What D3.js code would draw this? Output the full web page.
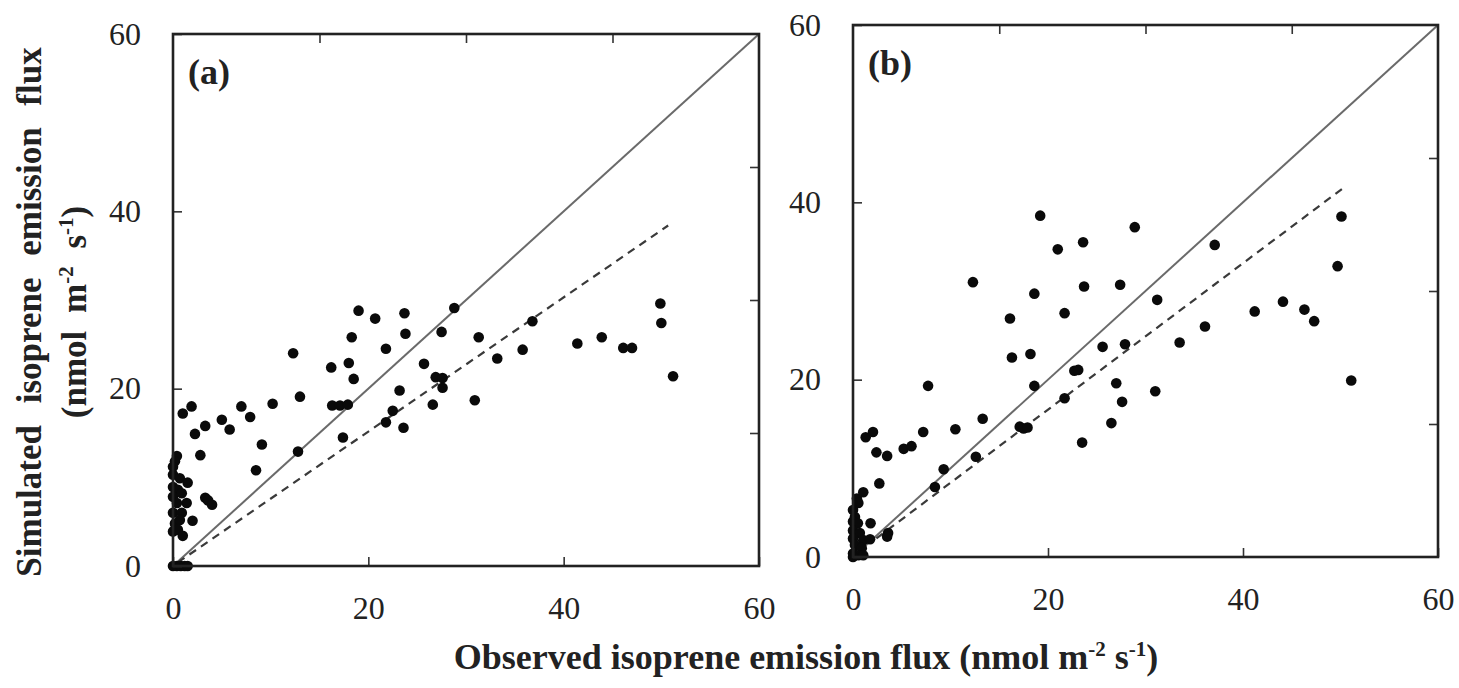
<!DOCTYPE html>
<html>
<head>
<meta charset="utf-8">
<script src="https://cdn.jsdelivr.net/npm/d3@7"></script>
<style>
  body { margin: 0; background: #fff; }
  text { font-family: "Liberation Serif", "Times New Roman", serif; fill: #222; }
</style>
</head>
<body>
<div class="graph-section"></div>
<script>
// panel (a): observed vs simulated, [obs, sim]
var pointsA = [
  [0,0],[0.4,0],[0.8,0],[1.2,0],[1.5,0],
  [0.4,12.4],[0.2,11.8],[0,11.2],[0,10.3],[0.7,9.9],[1.5,9.4],[0,8.9],[0.5,8.6],
  [0,7.8],[0.9,8.2],[1.4,7.1],[0.4,7.1],[0,6.0],[0.9,6.0],[0.2,4.8],[0.7,5.2],
  [0,3.9],[0.5,4.1],[1.0,3.4],[2.0,5.1],
  [2.8,12.5],[2.25,14.9],[3.3,15.8],[1.0,17.2],[1.9,18.0],
  [3.3,7.7],[3.6,7.4],[4.0,6.9],
  [5.0,16.5],[5.8,15.4],[7.0,18.0],[7.9,16.8],[8.5,10.8],[9.1,13.7],[10.2,18.3],
  [12.3,24.0],[12.8,12.9],[13.0,19.1],
  [16.2,22.4],[16.3,18.1],[17.1,18.1],[17.9,18.2],[17.4,14.5],[18.0,22.9],[18.5,21.1],
  [18.3,25.8],[19.0,28.8],[20.7,27.9],[21.8,24.5],[21.8,16.2],[22.5,17.5],[23.2,19.8],
  [23.6,15.6],[23.7,28.5],[23.8,26.2],[25.7,22.8],[26.6,18.2],[26.9,21.3],[27.6,21.2],
  [27.6,20.1],[27.5,26.4],[28.8,29.1],[30.9,18.7],[31.3,25.8],[33.2,23.4],[35.8,24.4],
  [36.8,27.6],[41.4,25.1],[43.9,25.8],[46.1,24.6],[47.0,24.6],[49.9,29.6],[50.0,27.4],
  [51.2,21.4]
];

// panel (b)
var pointsB = [
  [0.4,6.6],[0.55,6.1],[1.05,7.3],[0,5.3],[0.2,4.5],[0,4.0],[0.5,3.8],[1.8,3.8],
  [0,3.0],[0.7,2.7],[0,2.1],[1.05,1.9],[1.75,2.0],[0.2,1.35],[0.9,1.0],[0,0.4],
  [0.55,0.2],[1.05,0.2],[0,0],[3.6,2.7],[3.5,2.3],
  [2.7,8.3],[1.3,13.5],[2.05,14.1],[2.4,11.8],[3.5,11.4],[5.2,12.2],[6.0,12.5],
  [7.2,14.1],[7.7,19.3],[8.4,7.9],[9.3,9.9],[10.5,14.4],[12.3,31.0],[12.6,11.3],
  [13.3,15.6],[16.1,26.9],[16.3,22.5],[17.1,14.7],[17.5,14.5],[17.9,14.6],[18.2,22.9],
  [18.6,29.7],[18.6,19.3],[19.2,38.5],[21.0,34.7],[21.7,27.5],[21.7,17.9],[22.7,21.0],
  [23.1,21.1],[23.6,35.5],[23.5,12.9],[23.7,30.5],[25.6,23.7],[26.5,15.1],[27.0,19.6],
  [27.4,30.7],[27.6,17.5],[27.9,24.0],[28.9,37.2],[31.0,18.7],[31.2,29.0],[33.5,24.2],
  [36.1,26.0],[37.1,35.2],[41.2,27.7],[44.1,28.8],[46.3,27.9],[47.3,26.6],[49.7,32.8],
  [50.1,38.4],[51.1,19.9]
];

// 1:1 line and regression lines
var oneToOne = [[0,0],[60,60]];
var fitA = [[0.5,0.4],[50.7,38.4]];
var fitB = [[2.4,2.1],[50.5,41.8]];

var majorTicks = [0,20,40,60];
var minorTicks = [15,30,45];

var svg = d3.select(".graph-section")
            .append("svg")
            .attr("width",1459)
            .attr("height",688);

svg.append("rect").attr("width",1459).attr("height",688).attr("fill","#fff");

var drawPanel = function(points, fit, box, tag){
  var xScale = d3.scaleLinear().domain([0,60]).range([box.left, box.right]);
  var yScale = d3.scaleLinear().domain([0,60]).range([box.bottom, box.top]);

  var g = svg.append("g").classed("panel", true);

  var line = d3.line()
               .x(function(d){return xScale(d[0])})
               .y(function(d){return yScale(d[1])});

  g.append("path")
   .attr("d", line(oneToOne))
   .attr("fill","none")
   .attr("stroke","#6a6a6a")
   .attr("stroke-width",2);

  g.append("path")
   .attr("d", line(fit))
   .attr("fill","none")
   .attr("stroke","#3a3a3a")
   .attr("stroke-width",2.2)
   .attr("stroke-dasharray","8,6");

  g.selectAll("circle")
   .data(points)
   .enter()
   .append("circle")
   .attr("cx", function(d){return xScale(d[0])})
   .attr("cy", function(d){return yScale(d[1])})
   .attr("r", 5.3)
   .attr("fill","#0a0a0a");

  // axes, ticks pointing inwards
  var styleAxis = function(sel){
    sel.select(".domain").remove();
    sel.selectAll(".tick line").attr("stroke","#333").attr("stroke-width",1.6);
    sel.selectAll("text").style("font-size","32px").attr("fill","#222");
  };

  g.append("g")
   .attr("transform","translate(" + box.left + ",0)")
   .call(d3.axisLeft(yScale).tickValues(majorTicks).tickSizeInner(-9).tickSizeOuter(0).tickPadding(32))
   .call(styleAxis);

  g.append("g")
   .attr("transform","translate(0," + box.bottom + ")")
   .call(d3.axisBottom(xScale).tickValues(majorTicks).tickSizeInner(-9).tickSizeOuter(0).tickPadding(30))
   .call(styleAxis);

  g.append("g")
   .attr("transform","translate(" + box.right + ",0)")
   .call(d3.axisRight(yScale).tickValues(minorTicks).tickSizeInner(-9).tickSizeOuter(0).tickFormat(""))
   .call(styleAxis);

  g.append("g")
   .attr("transform","translate(0," + box.top + ")")
   .call(d3.axisTop(xScale).tickValues(minorTicks).tickSizeInner(-9).tickSizeOuter(0).tickFormat(""))
   .call(styleAxis);

  g.append("rect")
   .attr("x", box.left)
   .attr("y", box.top)
   .attr("width", box.right - box.left)
   .attr("height", box.bottom - box.top)
   .attr("fill","none")
   .attr("stroke","#222")
   .attr("stroke-width",2.6);

  g.append("text")
   .attr("x", box.left + 15)
   .attr("y", box.top + 50)
   .style("font-size","36px")
   .style("font-weight","bold")
   .text(tag);
};

drawPanel(pointsA, fitA, {left:173, right:759, top:34, bottom:566}, "(a)");
drawPanel(pointsB, fitB, {left:853, right:1438, top:25, bottom:557}, "(b)");

// axis titles
var xTitle = svg.append("text")
                .attr("x", 806)
                .attr("y", 669)
                .attr("text-anchor","middle")
                .style("font-size","36px")
                .style("font-weight","bold");
xTitle.append("tspan").text("Observed isoprene emission flux (nmol m");
xTitle.append("tspan").attr("dy",-13).style("font-size","21px").text("-2");
xTitle.append("tspan").attr("dy",13).text(" s");
xTitle.append("tspan").attr("dy",-13).style("font-size","21px").text("-1");
xTitle.append("tspan").attr("dy",13).text(")");

var yTitle = svg.append("g").attr("transform","translate(41,312) rotate(-90)");
yTitle.append("text")
      .attr("text-anchor","middle")
      .style("font-size","35px")
      .style("font-weight","bold")
      .style("word-spacing","13px")
      .text("Simulated isoprene emission flux");

var yTitle2 = svg.append("g").attr("transform","translate(86,312) rotate(-90)")
                 .append("text")
                 .attr("text-anchor","middle")
                 .style("font-size","35px")
                 .style("font-weight","bold")
                 .style("word-spacing","9px");
yTitle2.append("tspan").text("(nmol m");
yTitle2.append("tspan").attr("dy",-13).style("font-size","21px").text("-2");
yTitle2.append("tspan").attr("dy",13).text(" s");
yTitle2.append("tspan").attr("dy",-13).style("font-size","21px").text("-1");
yTitle2.append("tspan").attr("dy",13).text(")");
</script>
</body>
</html>
